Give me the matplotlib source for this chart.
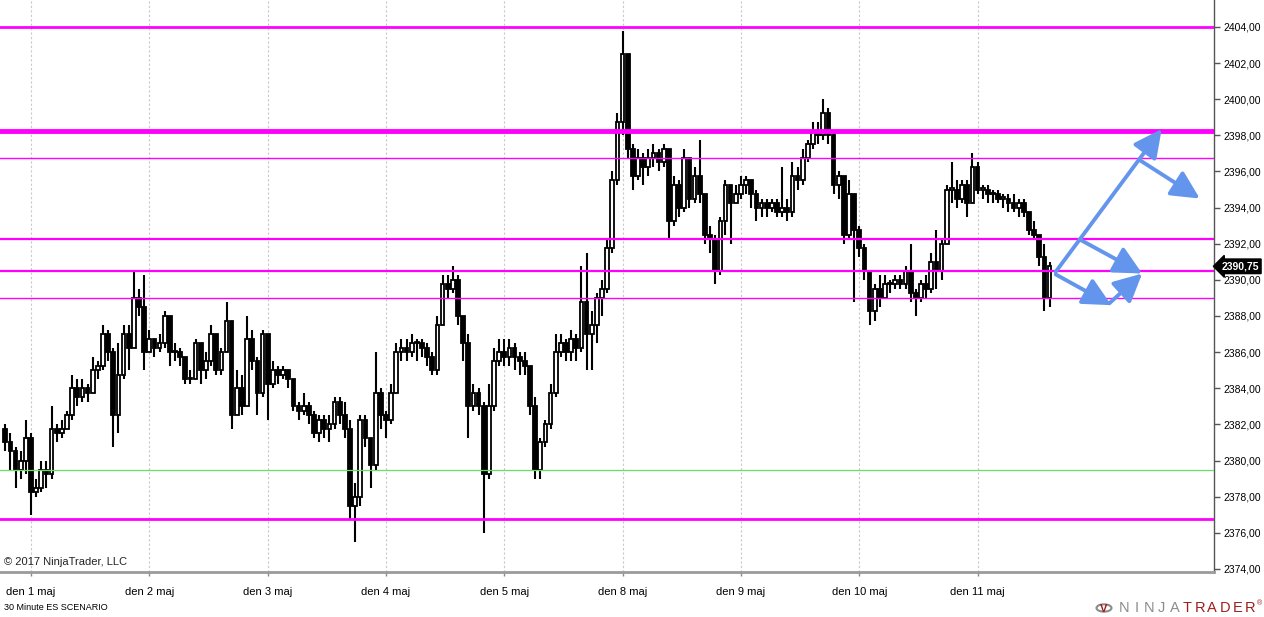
import matplotlib
matplotlib.use("Agg")
import matplotlib.pyplot as plt
import matplotlib.transforms as mtransforms
from matplotlib.patches import Circle
import numpy as np

plt.rcParams["font.family"] = ["Liberation Sans", "DejaVu Sans"]

# 30 minute ES, shown as hourly candles (open = previous close)
first_open = 2381.75
closes = [
    2381.0, 2380.5, 2379.5, 2380.0, 2381.25, 2378.25, 2378.5, 2379.5, 2379.25, 2381.75,
    2381.5, 2381.75, 2382.5, 2384.0, 2383.5, 2384.0, 2383.75, 2385.0, 2385.25, 2387.0,
    2386.0, 2382.5, 2384.75, 2387.0, 2386.25, 2389.0, 2388.5, 2386.0, 2386.75, 2386.25,
    2386.5, 2388.0, 2386.0, 2386.0, 2385.75, 2384.5, 2384.5, 2386.5, 2385.0, 2385.5,
    2387.0, 2385.0, 2386.0, 2387.75, 2382.5, 2384.0, 2383.0, 2386.75, 2385.5, 2383.75,
    2387.0, 2384.25, 2385.0, 2384.75, 2385.0, 2384.5, 2383.0, 2382.75, 2383.0, 2382.5,
    2381.5, 2382.25, 2381.75, 2382.0, 2383.25, 2382.5, 2381.75, 2377.5, 2378.0, 2382.25,
    2381.25, 2379.75, 2383.75, 2382.5, 2382.25, 2383.75, 2386.0, 2386.25, 2386.0, 2386.5,
    2386.5, 2386.25, 2385.75, 2385.0, 2387.5, 2389.75, 2389.5, 2390.0, 2388.0, 2386.5,
    2383.0, 2383.75, 2383.0, 2379.25, 2383.0, 2385.5, 2386.0, 2385.75, 2386.25, 2385.75,
    2385.5, 2385.25, 2383.0, 2379.5, 2381.0, 2382.0, 2383.75, 2386.0, 2386.5, 2386.0,
    2386.75, 2386.25, 2388.75, 2387.0, 2387.5, 2389.0, 2389.5, 2391.75, 2395.5, 2398.75,
    2402.5, 2397.25, 2395.75, 2396.75, 2396.25, 2396.75, 2397.0, 2396.5, 2397.25, 2393.25,
    2395.25, 2394.0, 2396.75, 2394.5, 2395.75, 2394.75, 2392.5, 2392.25, 2390.5, 2393.25,
    2395.25, 2394.25, 2394.75, 2395.25, 2395.5, 2394.75, 2394.0, 2394.25, 2394.0, 2394.25,
    2393.75, 2394.0, 2393.75, 2395.75, 2395.5, 2396.75, 2397.5, 2398.25, 2398.0, 2399.25,
    2398.0, 2395.25, 2395.75, 2392.5, 2394.75, 2392.75, 2391.75, 2390.5, 2388.25, 2389.5,
    2389.0, 2389.75, 2389.75, 2390.0, 2389.75, 2390.5, 2389.25, 2389.0, 2389.75, 2389.5,
    2391.0, 2390.5, 2392.0, 2395.0, 2395.0, 2394.5, 2395.25, 2394.25, 2396.25, 2395.0,
    2395.0, 2394.75, 2394.75, 2394.5, 2394.5, 2394.25, 2394.0, 2394.25, 2393.75, 2392.75,
    2392.5, 2391.25, 2389.0, 2390.75,
]
highs = [
    2382.0, 2381.5, 2380.75, 2380.5, 2382.25, 2381.5, 2379.0, 2380.0, 2380.0, 2383.0,
    2382.0, 2382.25, 2382.75, 2384.75, 2384.5, 2384.5, 2384.25, 2385.75, 2385.5, 2387.5,
    2387.25, 2386.25, 2386.5, 2387.5, 2387.5, 2390.5, 2389.5, 2390.25, 2387.25, 2386.75,
    2387.0, 2388.25, 2388.0, 2386.5, 2386.25, 2385.75, 2385.0, 2386.75, 2386.5, 2386.0,
    2387.5, 2387.0, 2386.25, 2388.75, 2387.75, 2385.0, 2384.75, 2388.0, 2387.25, 2385.75,
    2387.25, 2387.0, 2385.5, 2385.25, 2385.25, 2385.0, 2384.5, 2383.25, 2383.75, 2383.25,
    2382.75, 2382.5, 2382.5, 2382.5, 2383.5, 2383.5, 2383.25, 2382.25, 2378.75, 2382.5,
    2382.5, 2381.25, 2386.0, 2384.0, 2382.75, 2384.25, 2386.5, 2386.75, 2386.75, 2387.0,
    2386.75, 2386.75, 2386.5, 2386.0, 2388.0, 2390.25, 2390.25, 2390.75, 2390.25, 2388.0,
    2387.0, 2384.25, 2384.0, 2383.25, 2384.25, 2386.25, 2386.75, 2386.75, 2386.75, 2386.5,
    2386.0, 2386.0, 2385.25, 2383.5, 2381.25, 2382.25, 2384.25, 2387.0, 2387.0, 2386.75,
    2387.25, 2387.0, 2390.75, 2391.5, 2388.25, 2389.25, 2390.0, 2392.25, 2396.0, 2399.25,
    2403.75, 2402.5, 2397.5, 2397.25, 2397.0, 2397.25, 2397.5, 2397.25, 2397.5, 2397.25,
    2395.75, 2395.5, 2397.25, 2396.75, 2396.25, 2397.75, 2394.75, 2393.0, 2392.5, 2393.5,
    2395.5, 2395.25, 2395.25, 2395.75, 2395.75, 2395.5, 2395.0, 2394.5, 2394.5, 2394.5,
    2394.5, 2396.25, 2394.5, 2396.5, 2396.25, 2397.25, 2397.75, 2398.75, 2398.75, 2400.0,
    2399.5, 2398.25, 2396.0, 2395.75, 2395.5, 2394.75, 2393.0, 2392.0, 2390.5, 2389.75,
    2390.25, 2390.25, 2390.0, 2390.25, 2390.25, 2390.75, 2392.0, 2389.5, 2390.0, 2390.25,
    2391.5, 2392.75, 2392.25, 2395.25, 2396.5, 2395.5, 2395.5, 2395.5, 2397.0, 2396.5,
    2395.25, 2395.25, 2395.0, 2395.0, 2394.75, 2394.75, 2394.75, 2394.5, 2394.5, 2393.75,
    2393.25, 2392.5, 2392.0, 2391.0,
]
lows = [
    2380.5, 2379.5, 2378.5, 2379.0, 2379.25, 2377.0, 2378.0, 2378.25, 2378.5, 2379.0,
    2381.0, 2381.25, 2381.75, 2382.25, 2383.0, 2383.25, 2383.25, 2383.75, 2384.5, 2385.0,
    2385.5, 2380.75, 2381.5, 2384.5, 2385.0, 2386.25, 2388.0, 2385.0, 2386.0, 2385.75,
    2386.0, 2386.25, 2385.25, 2385.5, 2385.25, 2384.25, 2384.25, 2384.5, 2384.25, 2384.5,
    2385.25, 2384.75, 2384.75, 2386.0, 2381.75, 2382.5, 2382.5, 2383.0, 2385.0, 2382.5,
    2383.5, 2382.25, 2384.0, 2384.25, 2384.5, 2384.0, 2382.75, 2382.25, 2382.5, 2382.0,
    2381.25, 2381.0, 2381.25, 2381.0, 2381.75, 2382.0, 2381.25, 2376.75, 2375.5, 2377.5,
    2380.75, 2378.5, 2379.5, 2381.75, 2381.25, 2382.0, 2383.75, 2385.5, 2385.5, 2385.75,
    2385.5, 2385.75, 2385.25, 2384.75, 2384.75, 2387.5, 2389.0, 2389.25, 2387.5, 2385.5,
    2381.25, 2382.75, 2382.5, 2376.0, 2379.0, 2382.75, 2385.25, 2385.25, 2385.25, 2385.0,
    2384.75, 2384.75, 2382.5, 2379.0, 2379.0, 2380.75, 2381.75, 2383.5, 2385.75, 2385.5,
    2385.5, 2385.5, 2386.0, 2385.0, 2385.0, 2386.5, 2388.0, 2389.25, 2391.5, 2395.25,
    2398.0, 2396.75, 2395.0, 2395.5, 2395.25, 2395.75, 2396.25, 2396.0, 2396.25, 2392.25,
    2393.0, 2393.5, 2393.75, 2394.0, 2394.25, 2394.25, 2392.0, 2391.5, 2389.75, 2390.25,
    2392.5, 2392.0, 2394.25, 2394.5, 2394.75, 2394.0, 2393.25, 2393.5, 2393.5, 2393.75,
    2393.5, 2393.5, 2393.25, 2393.5, 2395.0, 2395.25, 2396.5, 2397.25, 2397.5, 2397.75,
    2397.5, 2394.75, 2394.5, 2392.0, 2392.25, 2388.75, 2391.25, 2390.0, 2387.5, 2387.75,
    2388.5, 2389.0, 2389.25, 2389.5, 2389.5, 2389.5, 2388.75, 2388.0, 2388.75, 2389.0,
    2389.25, 2389.5, 2390.0, 2392.0, 2394.25, 2394.0, 2394.25, 2393.5, 2394.25, 2394.75,
    2394.5, 2394.25, 2394.25, 2394.25, 2394.0, 2393.75, 2393.75, 2393.5, 2393.5, 2392.5,
    2392.25, 2390.75, 2388.25, 2388.5,
]

day_labels = ["den 1 maj", "den 2 maj", "den 3 maj", "den 4 maj", "den 5 maj",
              "den 8 maj", "den 9 maj", "den 10 maj", "den 11 maj"]
first_day_bar = 5
bars_per_day = 23

# horizontal levels drawn on the chart
magenta_levels = [2404.0, 2398.25, 2396.75, 2392.25, 2390.5, 2389.0, 2376.75]
magenta_widths = [2.0, 3.5, 1.0, 1.6, 1.6, 1.0, 2.0]
green_level = 2379.5

# scenario arrows: (bar, price) -> (bar, price)
scenario = [
    (204.2, 2390.45, 224.8, 2398.35),
    (220.4, 2396.65, 232.2, 2394.5),
    (209.1, 2392.2, 221.0, 2390.35),
    (204.2, 2390.3, 215.0, 2388.6),
    (214.6, 2388.7, 221.0, 2390.35),
]

price_ticks = np.arange(2374, 2405, 2)

closes = np.array(closes)
highs = np.array(highs)
lows = np.array(lows)
opens = np.concatenate([[first_open], closes[:-1]])
idx = np.arange(len(closes))
last_price = closes[-1]

fig = plt.figure(figsize=(12.64, 6.17), dpi=100)
ax = fig.add_axes([0.0, 45 / 617, 1214 / 1264, 572 / 617])

day_ticks = first_day_bar + bars_per_day * np.arange(len(day_labels))
for t in day_ticks:
    ax.axvline(t, color="#c8c8c8", lw=0.8, ls=(0, (2, 2)), zorder=1)

# candles
up = closes >= opens
ax.vlines(idx, lows, highs, color="black", lw=1.5, zorder=3)
body_bottom = np.minimum(opens, closes)
body_height = np.maximum(np.abs(closes - opens), 0.08)
ax.bar(idx, body_height, bottom=body_bottom, width=0.72,
       color=np.where(up, "white", "black"), edgecolor="black", linewidth=1.3, zorder=4)

for level, w in zip(magenta_levels, magenta_widths):
    ax.axhline(level, color="#ff00ff", lw=w, zorder=5)
ax.axhline(green_level, color="#66e066", lw=0.9, zorder=5)

for x0, y0, x1, y1 in scenario:
    ax.annotate("", xy=(x1, y1), xytext=(x0, y0),
                arrowprops=dict(arrowstyle="-|>,head_length=0.9,head_width=0.45",
                                color="#6495ed", lw=2.8, mutation_scale=19,
                                shrinkA=0, shrinkB=0),
                zorder=6)

ax.set_xlim(-1.03, 234.96)
ax.set_ylim(2373.83, 2405.49)

ax.yaxis.tick_right()
ax.set_yticks(price_ticks)
ax.set_yticklabels([f"{v:.2f}".replace(".", ",") for v in price_ticks])
ax.tick_params(axis="y", length=4, width=1, color="#555555", labelsize=7.5, pad=3)
ax.set_xticks(day_ticks)
ax.set_xticklabels(day_labels)
ax.tick_params(axis="x", length=3, width=1, color="#888888", labelsize=8, pad=8)

for s in ["top", "left"]:
    ax.spines[s].set_visible(False)
ax.spines["right"].set_color("#555555")
ax.spines["right"].set_linewidth(1.0)
ax.spines["bottom"].set_color("#9a9a9a")
ax.spines["bottom"].set_linewidth(2.0)

# last price marker
trans = mtransforms.blended_transform_factory(ax.transAxes, ax.transData)
ax.text(1.006, last_price, f"{last_price:.2f}".replace(".", ","), transform=trans,
        color="white", fontsize=7.5, fontweight="bold", va="center", ha="left",
        bbox=dict(boxstyle="larrow,pad=0.22", fc="black", ec="black"), zorder=10,
        clip_on=False)

ax.text(0.003, 0.018, "\u00a9 2017 NinjaTrader, LLC", transform=ax.transAxes,
        fontsize=8, va="center", ha="left", color="#222222")
fig.text(4 / 1264, 1 - 607 / 617, "30 Minute ES SCENARIO", fontsize=6.5,
         va="center", ha="left", color="black")

# logo
logo = "NINJATRADER"
for k, ch in enumerate(logo):
    fig.text((1124 + k * 12.6) / 1264, 1 - 608 / 617, ch, fontsize=10.5,
             color="#8c8c8c" if k < 5 else "#a01c1c", va="center", ha="center")
fig.text(1257 / 1264, 1 - 604 / 617, "\u00ae", fontsize=5, color="#a01c1c",
         va="center", ha="left")
fig.patches.append(Circle((1104 / 1264, 1 - 608 / 617), 7.5 / 1264,
                          transform=fig.transFigure, fill=False, ec="#8c8c8c", lw=1.5))
fig.text(1104 / 1264, 1 - 609 / 617, "V", fontsize=8, color="#a01c1c",
         fontweight="bold", va="center", ha="center")

fig.savefig("out.png", dpi=100)
plt.close(fig)
